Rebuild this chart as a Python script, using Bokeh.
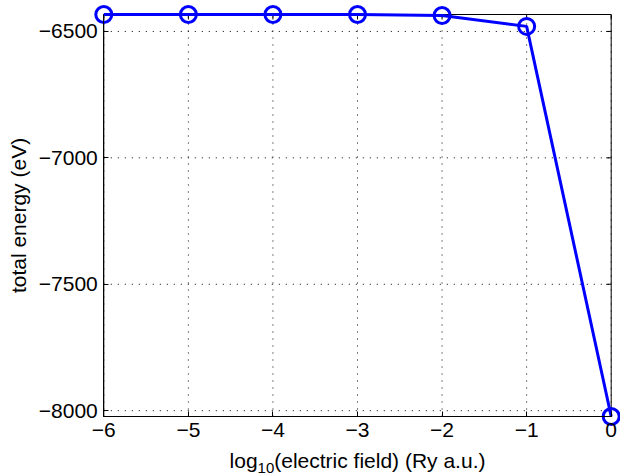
from math import pi
from bokeh.plotting import figure
from bokeh.models import Range1d, FixedTicker, Label
from bokeh.embed import file_html
from bokeh.resources import INLINE

# total energy versus log10 of the applied electric field
log_field = [-6, -5, -4, -3, -2, -1, 0]
energy = [-6433, -6433, -6433, -6433, -6437, -6480, -8023]

x_ticks = [-6, -5, -4, -3, -2, -1, 0]
y_ticks = [-8000, -7500, -7000, -6500]

# axes box limits (data units) and where the box sits on the canvas (pixels)
X_LO, X_HI = -6, 0
Y_LO, Y_HI = -8023, -6433
W, H = 620, 476
BOX_L, BOX_R, BOX_T, BOX_B = 103.3, 610.7, 14.0, 416.0

FONT = "Liberation Sans"
FS = 21
BLUE = "#0000ff"

# the frame fills the whole canvas so markers and labels are not clipped;
# the axes are pinned to the box edges with fixed_location
sx = (BOX_R - BOX_L) / (X_HI - X_LO)
sy = (BOX_B - BOX_T) / (Y_HI - Y_LO)
x_range = Range1d(X_LO - BOX_L / sx, X_HI + (W - BOX_R) / sx)
y_range = Range1d(Y_LO - (H - BOX_B) / sy, Y_HI + BOX_T / sy)

p = figure(width=W, height=H, output_backend="svg", toolbar_location=None,
           title=None, x_range=x_range, y_range=y_range,
           min_border=0, min_border_left=0, min_border_right=0,
           min_border_top=0, min_border_bottom=0)
p.background_fill_color = "white"
p.border_fill_color = "white"
p.outline_line_color = None
p.grid.visible = False


def minus(v):
    return str(v).replace("-", "\u2212")


def style_axis(ax, ticks, loc, bounds):
    ax.fixed_location = loc
    ax.bounds = bounds
    ax.ticker = FixedTicker(ticks=ticks)
    ax.major_tick_in = 5
    ax.major_tick_out = 0
    ax.minor_tick_line_color = None
    ax.axis_line_color = "black"
    ax.major_tick_line_color = "black"
    ax.major_label_text_font = FONT
    ax.major_label_text_font_size = f"{FS}px"
    ax.major_label_text_color = "black"
    ax.major_label_overrides = {t: minus(t) for t in ticks}
    ax.major_label_standoff = 6


style_axis(p.xaxis[0], x_ticks, Y_LO, (X_LO, X_HI))
style_axis(p.yaxis[0], y_ticks, X_LO, (Y_LO, Y_HI))
p.yaxis[0].axis_label = "total energy (eV)"
p.yaxis[0].axis_label_text_font = FONT
p.yaxis[0].axis_label_text_font_size = f"{FS}px"
p.yaxis[0].axis_label_text_font_style = "normal"
p.yaxis[0].axis_label_text_color = "black"
p.yaxis[0].axis_label_standoff = 6

# dotted grid inside the box
p.segment(x0=x_ticks, y0=[Y_LO] * len(x_ticks), x1=x_ticks, y1=[Y_HI] * len(x_ticks),
          line_color="black", line_width=1, line_dash="1 6")
p.segment(x0=[X_LO] * len(y_ticks), y0=y_ticks, x1=[X_HI] * len(y_ticks), y1=y_ticks,
          line_color="black", line_width=1, line_dash="1 6")

# box outline with inward ticks on the top and right edges
p.quad(left=[X_LO], right=[X_HI], bottom=[Y_LO], top=[Y_HI],
       fill_color=None, line_color="black", line_width=1)
p.ray(x=x_ticks, y=[Y_HI] * len(x_ticks), length=5, length_units="screen",
      angle=-pi / 2, line_color="black", line_width=1)
p.ray(x=[X_HI] * len(y_ticks), y=y_ticks, length=5, length_units="screen",
      angle=pi, line_color="black", line_width=1)

# data
p.line(log_field, energy, line_color=BLUE, line_width=3)
p.scatter(log_field, energy, marker="circle", size=16, line_color=BLUE,
          line_width=3, fill_color=None)

# x axis label with a subscripted "10"
sub_fs = 15
w_log = 1.334 * FS
w_sub = 1.112 * sub_fs
w_rest = 10.057 * FS
start = -(w_log + w_sub + w_rest) / 2
x_mid = (X_LO + X_HI) / 2
base = -(460 - BOX_B)
sub_base = -(467 - BOX_B)
common = dict(text_font=FONT, text_color="black", text_align="left",
              text_baseline="alphabetic")
p.add_layout(Label(x=x_mid, y=Y_LO, x_offset=start, y_offset=base, text="log",
                   text_font_size=f"{FS}px", **common))
p.add_layout(Label(x=x_mid, y=Y_LO, x_offset=start + w_log, y_offset=sub_base, text="10",
                   text_font_size=f"{sub_fs}px", **common))
p.add_layout(Label(x=x_mid, y=Y_LO, x_offset=start + w_log + w_sub, y_offset=base,
                   text="(electric field) (Ry a.u.)",
                   text_font_size=f"{FS}px", **common))

open("out.html", "w").write(file_html(p, INLINE))
